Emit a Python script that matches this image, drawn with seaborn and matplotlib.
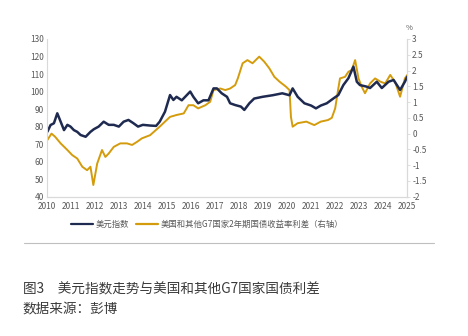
import matplotlib
matplotlib.use("Agg")
import matplotlib.pyplot as plt
import seaborn as sns
import pandas as pd
from matplotlib.lines import Line2D

# ---- data ----
dxy_t = [2010.03, 2010.16, 2010.3, 2010.44, 2010.58, 2010.72, 2010.86, 2010.99, 2011.13, 2011.27,
         2011.41, 2011.62, 2011.82, 2011.96, 2012.16, 2012.37, 2012.58, 2012.79, 2013.0, 2013.2,
         2013.4, 2013.6, 2013.8, 2014.0, 2014.3, 2014.55, 2014.7, 2014.92, 2015.13, 2015.27,
         2015.4, 2015.62, 2015.83, 2015.97, 2016.1, 2016.3, 2016.52, 2016.73, 2016.94, 2017.08,
         2017.28, 2017.5, 2017.63, 2017.84, 2018.08, 2018.22, 2018.43, 2018.63, 2018.98, 2019.4,
         2019.8, 2020.1, 2020.23, 2020.44, 2020.72, 2021.0, 2021.2, 2021.4, 2021.65, 2021.93,
         2022.13, 2022.34, 2022.55, 2022.76, 2022.9, 2023.03, 2023.31, 2023.45, 2023.73, 2023.94,
         2024.22, 2024.43, 2024.7, 2024.9, 2025.0]
dxy_v = [77.1, 80.9, 81.9, 87.6, 82.8, 78.0, 81.0, 80.0, 78.0, 77.0,
         75.2, 74.2, 77.0, 78.5, 80.0, 82.8, 81.0, 81.0, 80.0, 82.8,
         83.8, 82.0, 80.0, 81.0, 80.6, 80.4, 82.8, 88.5, 98.0, 95.2,
         97.0, 95.0, 98.0, 100.0, 97.0, 93.3, 95.0, 95.0, 101.8, 101.8,
         99.0, 97.0, 93.3, 92.3, 91.4, 89.5, 93.3, 96.0, 97.0, 97.9,
         99.0, 97.9, 101.8, 97.0, 93.3, 92.0, 90.4, 92.0, 93.3, 96.1,
         98.0, 103.7, 107.6, 114.2, 105.6, 103.7, 102.8, 102.0, 105.6, 102.0,
         105.6, 106.6, 100.9, 105.6, 108.5]

spr_t = [2010.03, 2010.2, 2010.35, 2010.58, 2010.86, 2011.06, 2011.27, 2011.48, 2011.68, 2011.82,
         2011.94, 2012.1, 2012.3, 2012.44, 2012.58, 2012.79, 2013.06, 2013.34, 2013.55, 2013.76,
         2013.96, 2014.3, 2014.7, 2014.92, 2015.13, 2015.4, 2015.7, 2015.9, 2016.1, 2016.3,
         2016.6, 2016.8, 2016.94, 2017.22, 2017.43, 2017.63, 2017.84, 2017.95, 2018.15, 2018.35,
         2018.56, 2018.84, 2019.05, 2019.26, 2019.47, 2019.68, 2019.95, 2020.1, 2020.16, 2020.23,
         2020.44, 2020.8, 2021.13, 2021.4, 2021.7, 2021.86, 2022.0, 2022.13, 2022.2, 2022.41,
         2022.55, 2022.69, 2022.83, 2022.97, 2023.1, 2023.24, 2023.45, 2023.66, 2023.87, 2024.08,
         2024.29, 2024.5, 2024.7, 2024.9, 2025.0]
spr_v = [-0.2, 0.0, -0.1, -0.31, -0.52, -0.68, -0.79, -1.05, -1.16, -1.05,
         -1.63, -0.95, -0.52, -0.74, -0.63, -0.42, -0.31, -0.31, -0.36, -0.26,
         -0.15, -0.05, 0.22, 0.38, 0.53, 0.59, 0.64, 0.9, 0.9, 0.8,
         0.9, 1.01, 1.38, 1.43, 1.38, 1.43, 1.54, 1.75, 2.23, 2.33,
         2.23, 2.44, 2.28, 2.07, 1.8, 1.65, 1.49, 1.38, 0.53, 0.22,
         0.33, 0.38, 0.27, 0.38, 0.43, 0.5, 0.8, 1.43, 1.75, 1.8,
         1.96, 2.02, 2.33, 1.75, 1.49, 1.28, 1.59, 1.75, 1.65, 1.59,
         1.86, 1.62, 1.17, 1.75, 1.86]

left_ticks = [40, 50, 60, 70, 80, 90, 100, 110, 120, 130]
right_ticks = [-2, -1.5, -1, -0.5, 0, 0.5, 1, 1.5, 2, 2.5, 3]
right_labels = ["-2", "-1.5", "-1", "-0.5", "0", "0.5", "1", "1.5", "2", "2.5", "3"]
year_ticks = list(range(2010, 2026))

label_dxy = "美元指数"
label_spr = "美国和其他G7国家2年期国债收益率利差（右轴）"
title = "图3　美元指数走势与美国和其他G7国家国债利差"
source = "数据来源：彭博"

# ---- style ----
sns.set_theme(style="white")
plt.rcParams["font.family"] = ["Noto Sans CJK SC", "DejaVu Sans"]

NAVY = "#1f2a50"
GOLD = "#d49c0c"
TICKC = "#595959"
SPINE = "#d9d9d9"

fig = plt.figure(figsize=(4.68, 3.36), dpi=100)
ax = fig.add_axes([0.0998, 0.4146, 0.7705, 0.4694])
ax2 = ax.twinx()

df1 = pd.DataFrame({"t": dxy_t, "v": dxy_v})
df2 = pd.DataFrame({"t": spr_t, "v": spr_v})
sns.lineplot(data=df2, x="t", y="v", ax=ax2, color=GOLD, lw=1.4)
sns.lineplot(data=df1, x="t", y="v", ax=ax, color=NAVY, lw=1.8)
ax.set_zorder(ax2.get_zorder() + 1)
ax.patch.set_visible(False)

ax.set_xlim(2010, 2025)
ax.set_ylim(40, 130)
ax2.set_ylim(-2, 3)
ax.set_xticks(year_ticks)
ax.set_xticklabels([str(y) for y in year_ticks])
ax.set_yticks(left_ticks)
ax2.set_yticks(right_ticks)
ax2.set_yticklabels(right_labels)
for a in (ax, ax2):
    a.set_xlabel("")
    a.set_ylabel("")
    a.grid(False)
    for s in a.spines.values():
        s.set_color(SPINE)
        s.set_linewidth(0.8)
    a.spines["top"].set_visible(False)
    a.tick_params(labelsize=6, colors=TICKC, length=2, width=0.6, pad=1.5)
ax.tick_params(axis="y", length=0, pad=2)
ax.tick_params(axis="x", length=2, color=SPINE)
ax2.tick_params(axis="y", length=2, color=SPINE)
ax2.spines["left"].set_visible(False)
for lbl in ax.get_xticklabels() + ax.get_yticklabels() + ax2.get_yticklabels():
    lbl.set_color(TICKC)

fig.text(0.874, 0.918, "%", fontsize=5.5, color=TICKC, ha="center", va="center")

handles = [Line2D([0], [0], color=NAVY, lw=1.6), Line2D([0], [0], color=GOLD, lw=1.6)]
fig.legend(handles, [label_dxy, label_spr], loc="center", bbox_to_anchor=(0.443, 0.333),
           ncol=2, frameon=False, fontsize=6, handlelength=2.6, handletextpad=0.4,
           columnspacing=0.8, labelcolor=TICKC)

fig.add_artist(Line2D([0.051, 0.927], [0.277, 0.277], color="#bfbfbf", lw=0.8))
fig.text(0.049, 0.137, title, fontsize=9.8, color="#3a3a3a", ha="left", va="center")
fig.text(0.049, 0.08, source, fontsize=9.8, color="#3a3a3a", ha="left", va="center")

fig.savefig("out.png", dpi=100, facecolor="white")
